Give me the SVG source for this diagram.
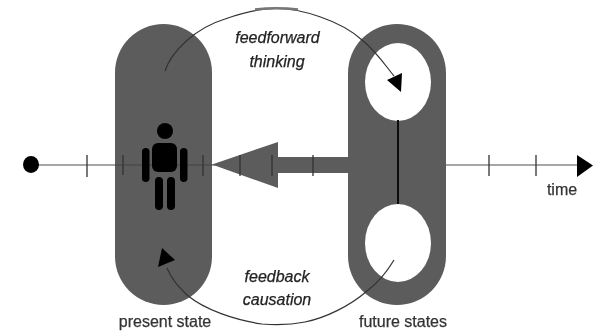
<svg xmlns="http://www.w3.org/2000/svg" width="608" height="331" viewBox="0 0 608 331">
<style>
.cap{fill:#5c5c5c}
.hole{fill:#fff}
.axis{stroke:#888;stroke-width:1.3;fill:none}
.tick{stroke:#333;stroke-width:1.3;fill:none}
.curve{stroke:#333;stroke-width:1.2;fill:none}
.lbl{font-family:"Liberation Sans",Arial,sans-serif;font-size:16px;fill:#333;stroke:#333;stroke-width:.25;text-anchor:middle}
.it{font-style:italic;fill:#222;stroke:#222}
.blk{fill:#000}
</style>
<defs><filter id="soft" x="-5%" y="-5%" width="110%" height="110%"><feGaussianBlur stdDeviation="0.55"/></filter></defs>
<rect width="608" height="331" fill="#fff"/>
<g filter="url(#soft)">
<g id="axis-line">
<line class="axis" x1="31" y1="165" x2="580" y2="165"/>
<ellipse class="blk" cx="31" cy="164.500" rx="8" ry="8.500"/>
<polygon class="blk" points="577,155 593,165.500 577,177"/>
</g>
<g id="present-state">
<rect class="cap" x="115" y="24" width="97" height="281" rx="48.500" ry="48.500"/>
<line x1="115" y1="165" x2="212" y2="165" stroke="#444" stroke-width="1"/>
<text class="lbl" x="165" y="327">present state</text>
</g>
<g id="future-states">
<rect class="cap" x="348" y="24" width="98" height="281" rx="49" ry="49"/>
<ellipse class="hole" cx="398" cy="82" rx="33" ry="39"/>
<ellipse class="hole" cx="398" cy="243" rx="33" ry="39"/>
<line x1="398" y1="120" x2="398" y2="204" stroke="#111" stroke-width="2"/>
<text class="lbl" x="403" y="327">future states</text>
</g>
<g id="connectors">
<g class="tick">
<line x1="87" y1="155" x2="87" y2="177"/>
<line x1="123" y1="155" x2="123" y2="175"/>
<line x1="203" y1="155" x2="203" y2="176"/>
<line x1="489" y1="155" x2="489" y2="176"/>
<line x1="536" y1="155" x2="536" y2="176"/>
</g>
<polygon class="cap" points="212,164.500 278,142 278,188"/>
<rect class="cap" x="277" y="157" width="73" height="16"/>
<line class="tick" x1="240" y1="155" x2="240" y2="176"/>
<line class="tick" x1="272" y1="155" x2="272" y2="176"/>
<line class="tick" x1="313" y1="155" x2="313" y2="176"/>
<path class="curve" d="M165,71 C171,52 195,28 225,19 C245,12 260,8.500 277,8.500 C300,8.500 340,20 362,40 C375,50 385,65 394,76"/>
<path d="M255,9.500 C268,8 285,8 298,9.500" stroke="#777" stroke-width="2.500" fill="none"/>
<polygon class="blk" points="387,80 402,73 401,92"/>
<path class="curve" d="M394,260 C385,275 375,285 367,291 C350,306 325,318 305,322 C290,325 275,325 262,324 C235,320 205,310 187,295 C178,286 172,280 167,268"/>
<polygon class="blk" points="162,248 158,267 175,260"/>
</g>
<g id="person">
<circle class="blk" cx="165" cy="131" r="8"/>
<rect class="blk" x="152" y="143" width="25" height="29" rx="6"/>
<rect class="blk" x="142" y="148" width="7.500" height="34" rx="3.750"/>
<rect class="blk" x="180" y="148" width="7.500" height="34" rx="3.750"/>
<rect class="blk" x="155" y="177" width="8" height="33" rx="4"/>
<rect class="blk" x="167" y="177" width="8" height="33" rx="4"/>
</g>
<g id="labels">
<text class="lbl it" x="277.500" y="43">feedforward</text>
<text class="lbl it" x="277" y="67">thinking</text>
<text class="lbl it" x="277" y="282">feedback</text>
<text class="lbl it" x="277" y="305">causation</text>
<text class="lbl" x="562" y="195">time</text>
</g>
</g>
</svg>
